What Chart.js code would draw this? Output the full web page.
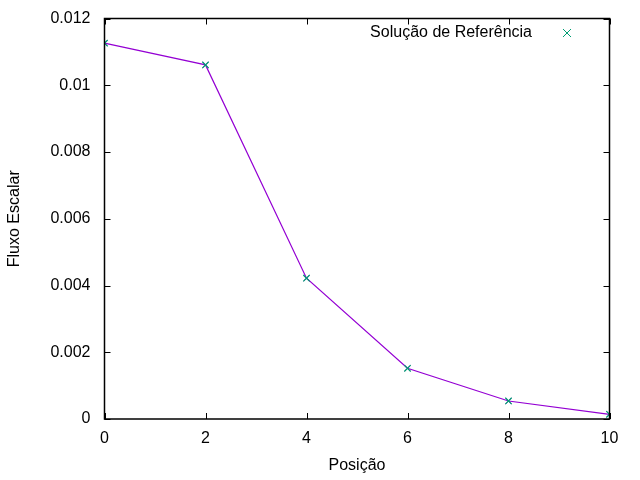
<!DOCTYPE html>
<html>
<head>
<meta charset="utf-8">
<script src="https://cdn.jsdelivr.net/npm/chart.js@4"></script>
<style>
html,body{margin:0;padding:0;background:#fff;}
#wrap{width:640px;height:480px;}
</style>
</head>
<body>
<div id="wrap"><canvas id="c" width="640" height="480"></canvas></div>
<script>
const positions = [0, 2, 4, 6, 8, 10];
const fluxValues = [0.01126, 0.01061, 0.00422, 0.00152, 0.00054, 0.00014];
const referenceValues = [0.01126, 0.01061, 0.00422, 0.00152, 0.00054, 0.00014];
const xTicks = [0, 2, 4, 6, 8, 10];
const yTicks = [0, 0.002, 0.004, 0.006, 0.008, 0.01, 0.012];
const legendLabel = 'Solução de Referência';
const xTitle = 'Posição';
const yTitle = 'Fluxo Escalar';

const FONT = 'Liberation Sans, Arial, sans-serif';
const FS = 16;

const toPts = (xs, ys) => xs.map((x, i) => ({x: x, y: ys[i]}));

const tickPlugin = {
  id: 'gnuTicks',
  afterDraw(chart) {
    const ctx = chart.ctx;
    const a = chart.chartArea;
    const xs = chart.scales.x, ys = chart.scales.y;
    const L = 6;
    ctx.save();
    ctx.strokeStyle = '#000';
    ctx.lineWidth = 1;
    ctx.beginPath();
    xTicks.forEach(v => {
      const px = Math.round(xs.getPixelForValue(v)) + 0.5;
      ctx.moveTo(px, a.bottom); ctx.lineTo(px, a.bottom - L);
      ctx.moveTo(px, a.top); ctx.lineTo(px, a.top + L);
    });
    yTicks.forEach(v => {
      const py = Math.round(ys.getPixelForValue(v)) + 0.5;
      ctx.moveTo(a.left, py); ctx.lineTo(a.left + L, py);
      ctx.moveTo(a.right, py); ctx.lineTo(a.right - L, py);
    });
    ctx.stroke();
    ctx.lineWidth = 1.5;
    ctx.strokeRect(a.left, a.top, a.right - a.left, a.bottom - a.top);
    // legend
    ctx.font = FS + 'px ' + FONT;
    ctx.fillStyle = '#000';
    ctx.textAlign = 'right';
    ctx.textBaseline = 'middle';
    const ly = 33;
    ctx.fillText(legendLabel, 532, ly);
    const mx = 567, r = 4;
    ctx.strokeStyle = '#009E73';
    ctx.lineWidth = 1;
    ctx.beginPath();
    ctx.moveTo(mx - r, ly - r); ctx.lineTo(mx + r, ly + r);
    ctx.moveTo(mx - r, ly + r); ctx.lineTo(mx + r, ly - r);
    ctx.stroke();
    ctx.restore();
  }
};

new Chart(document.getElementById('c'), {
  type: 'scatter',
  data: {
    datasets: [
      {
        label: '',
        data: toPts(positions, fluxValues),
        showLine: true,
        order: 2,
        borderColor: '#9400D3',
        borderWidth: 1.2,
        pointStyle: 'crossRot',
        pointRadius: 4,
        pointBorderColor: '#9400D3',
        pointBorderWidth: 1,
        fill: false
      },
      {
        label: legendLabel,
        data: toPts(positions, referenceValues),
        showLine: false,
        order: 1,
        pointStyle: 'crossRot',
        pointRadius: 4.5,
        pointBorderColor: '#009E73',
        pointBackgroundColor: '#009E73',
        pointBorderWidth: 1.2
      }
    ]
  },
  options: {
    responsive: false,
    animation: false,
    devicePixelRatio: 1,
    layout: {padding: {top: 18.5, right: 30.5, left: 0, bottom: 0}},
    plugins: {legend: {display: false}, tooltip: {enabled: false}},
    scales: {
      x: {
        type: 'linear', min: 0, max: 10,
        afterBuildTicks: s => { s.ticks = xTicks.map(v => ({value: v})); },
        afterFit: s => { s.height = 61; },
        grid: {display: false},
        border: {display: false},
        ticks: {color: '#000', font: {family: FONT, size: FS}, padding: 2, maxRotation: 0,
                callback: v => String(v)},
        title: {display: true, text: xTitle, color: '#000', font: {family: FONT, size: FS}, padding: {top: 0, bottom: 5}}
      },
      y: {
        type: 'linear', min: 0, max: 0.012,
        afterBuildTicks: s => { s.ticks = yTicks.map(v => ({value: v})); },
        afterFit: s => { s.width = 104.5; },
        grid: {display: false},
        border: {display: false},
        ticks: {color: '#000', font: {family: FONT, size: FS}, padding: 6,
                callback: v => String(parseFloat(v.toFixed(4)))},
        title: {display: true, text: yTitle, color: '#000', font: {family: FONT, size: FS}, padding: {top: 5, bottom: 0}}
      }
    }
  },
  plugins: [tickPlugin]
});
</script>
</body>
</html>
